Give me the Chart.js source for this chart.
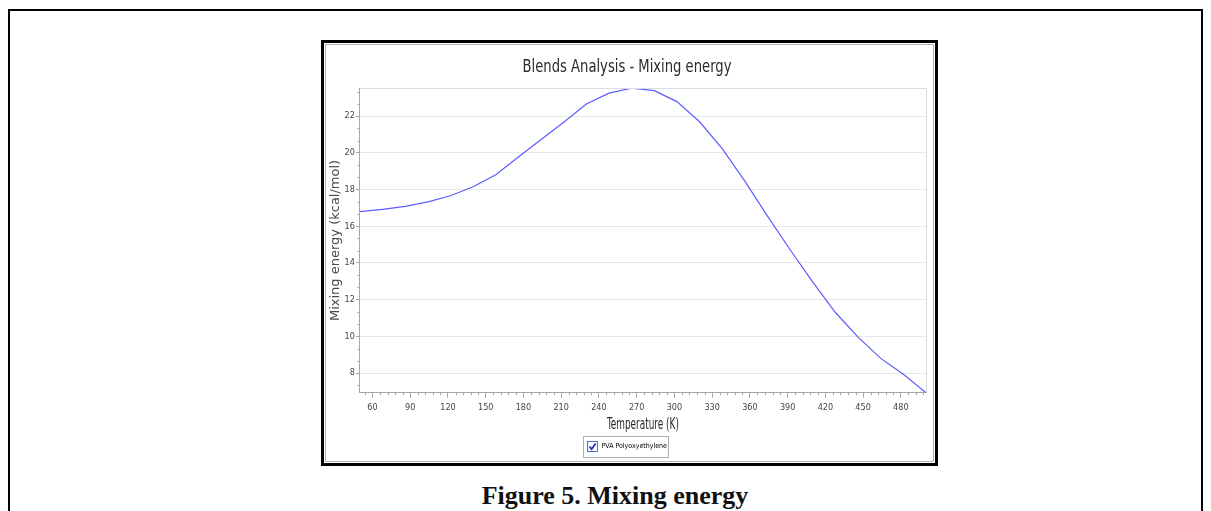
<!DOCTYPE html>
<html>
<head>
<meta charset="utf-8">
<script src="https://cdn.jsdelivr.net/npm/chart.js@4.4.1/dist/chart.umd.min.js"></script>
<style>
  html, body { margin: 0; padding: 0; background: #fff; width: 1211px; height: 511px; overflow: hidden; }
  #page { position: absolute; left: 8px; top: 9px; width: 1195px; height: 600px; border: 2px solid #000; box-sizing: border-box; }
  #frame { position: absolute; left: 321px; top: 40px; width: 617px; height: 426px; border: 3px solid #000; box-sizing: border-box; background: #fff; }
  #inner { position: absolute; left: 1px; top: 1px; right: 1px; bottom: 1px; border: 1px solid #b4b4b4; }
  #wrap { position: absolute; left: 0; top: 0; width: 607px; height: 416px; }
  #caption { position: absolute; left: 415px; width: 400px; top: 481px; text-align: center; font: bold 26px "Liberation Serif", serif; color: #111; white-space: nowrap; }
</style>
</head>
<body>
<div id="page"></div>
<div id="frame"><div id="inner"><div id="wrap"><canvas id="energyChart"></canvas></div></div></div>
<div id="caption">Figure 5. Mixing energy</div>
<script>
// values
const temperature = [50, 68, 86, 104, 122, 140, 158, 176, 194, 212, 230, 248, 266, 284, 302, 320, 338, 356, 374, 392, 410, 428, 446, 464, 482, 500];
const mixingEnergy = [16.80, 16.92, 17.08, 17.33, 17.66, 18.15, 18.80, 19.77, 20.73, 21.66, 22.66, 23.25, 23.52, 23.39, 22.79, 21.69, 20.23, 18.46, 16.55, 14.72, 12.95, 11.30, 9.96, 8.80, 7.94, 6.93];
const xTickLabels = [60, 90, 120, 150, 180, 210, 240, 270, 300, 330, 360, 390, 420, 450, 480];
const yTickLabels = [8, 10, 12, 14, 16, 18, 20, 22];
const seriesName = 'PVA Polyoxyethylene';
const chartTitle = 'Blends Analysis - Mixing energy';
const xTitle = 'Temperature (K)';
const yTitle = 'Mixing energy (kcal/mol)';

const narrow = '"Liberation Sans Narrow", "DejaVu Sans Condensed", "Liberation Sans", sans-serif';
const hidden = 'rgba(0,0,0,0)';

// checkbox used as the legend marker
const checkBox = document.createElement('canvas');
checkBox.width = 11;
checkBox.height = 11;
const cb = checkBox.getContext('2d');
cb.fillStyle = '#fff';
cb.fillRect(0, 0, 11, 11);
cb.strokeStyle = '#4a6fd0';
cb.lineWidth = 1;
cb.strokeRect(0.5, 0.5, 10, 10);
cb.strokeStyle = '#1c2fc4';
cb.lineWidth = 1.8;
cb.beginPath();
cb.moveTo(2.5, 5.5);
cb.lineTo(4.5, 8.2);
cb.lineTo(8.6, 2.4);
cb.stroke();

// the titles in the picture use a very narrow face, so squeeze them sideways
function drawSqueezed(ctx, text, cx, cy, size, squeeze) {
    ctx.save();
    ctx.translate(cx, cy);
    ctx.scale(squeeze, 1);
    ctx.font = size + 'px ' + narrow;
    ctx.fillStyle = '#2a2a2a';
    ctx.textAlign = 'center';
    ctx.textBaseline = 'middle';
    ctx.fillText(text, 0, 0);
    ctx.restore();
}

// minor ticks, plot frame, legend box and the squeezed titles
const extras = {
    id: 'extras',
    afterDraw(chart) {
        const { ctx, chartArea: a, scales: { x, y } } = chart;
        ctx.save();
        ctx.lineWidth = 1;
        ctx.strokeStyle = '#dcdcdc';
        ctx.beginPath();
        ctx.moveTo(a.left, Math.round(a.top) + 0.5);
        ctx.lineTo(Math.round(a.right) + 0.5, Math.round(a.top) + 0.5);
        ctx.lineTo(Math.round(a.right) + 0.5, a.bottom);
        ctx.stroke();

        ctx.strokeStyle = '#a8a8a8';
        ctx.beginPath();
        for (let v = Math.ceil(x.min / 6) * 6; v <= x.max; v += 6) {
            if (v % 30 === 0) continue;
            const px = Math.round(x.getPixelForValue(v)) + 0.5;
            ctx.moveTo(px, a.bottom);
            ctx.lineTo(px, a.bottom + 2.5);
        }
        for (let k = -3; k <= 30; k++) {
            if (k % 3 === 0) continue;
            const v = 8 + k * 2 / 3;
            if (v < y.min || v > y.max) continue;
            const py = Math.round(y.getPixelForValue(v)) + 0.5;
            ctx.moveTo(a.left, py);
            ctx.lineTo(a.left - 2.5, py);
        }
        ctx.stroke();

        const box = chart.legend.legendHitBoxes[0];
        if (box) {
            ctx.strokeStyle = '#b0b0b0';
            ctx.strokeRect(Math.round(box.left) - 3.5, Math.round(box.top) - 6.5, Math.round(box.width) + 5, Math.round(box.height) + 14);
        }
        ctx.restore();

        const t = chart.titleBlock;
        drawSqueezed(ctx, chartTitle, (t.left + t.right) / 2, t.top + 8 + 14, 18.5, 0.79);
        drawSqueezed(ctx, xTitle, (a.left + a.right) / 2, x.bottom - 11, 15, 0.66);
    }
};

new Chart(document.getElementById('energyChart'), {
    type: 'line',
    data: {
        datasets: [{
            label: seriesName,
            data: temperature.map((t, i) => ({ x: t, y: mixingEnergy[i] })),
            borderColor: '#5c5cff',
            borderWidth: 1.2,
            pointRadius: 0,
            tension: 0
        }]
    },
    options: {
        responsive: true,
        maintainAspectRatio: false,
        animation: false,
        layout: { padding: { left: 2, right: 7, top: 0, bottom: 1 } },
        plugins: {
            title: {
                display: true,
                text: chartTitle,
                color: hidden,
                font: { family: narrow, size: 18.5, weight: 'normal' },
                padding: { top: 8, bottom: 13 }
            },
            legend: {
                position: 'bottom',
                onClick: null,
                labels: {
                    usePointStyle: true,
                    pointStyleWidth: 11,
                    boxHeight: 11,
                    padding: 6.5,
                    color: '#222',
                    font: { family: narrow, size: 7 },
                    generateLabels: () => [{ text: seriesName, pointStyle: checkBox, lineWidth: 0, datasetIndex: 0, hidden: false }]
                }
            },
            tooltip: { enabled: false }
        },
        scales: {
            x: {
                type: 'linear',
                min: temperature[0],
                max: temperature[temperature.length - 1],
                afterBuildTicks: axis => { axis.ticks = xTickLabels.map(v => ({ value: v })); },
                ticks: { autoSkip: false, maxRotation: 0, padding: 5, color: '#444', font: { family: narrow, size: 9 } },
                grid: { drawOnChartArea: false, tickLength: 5, tickColor: '#a8a8a8' },
                border: { color: '#a8a8a8' },
                title: { display: true, text: xTitle, color: hidden, font: { family: narrow, size: 15 }, padding: { top: 0, bottom: 0 } }
            },
            y: {
                type: 'linear',
                min: Math.min(...mixingEnergy),
                max: Math.max(...mixingEnergy),
                afterBuildTicks: axis => { axis.ticks = yTickLabels.map(v => ({ value: v })); },
                ticks: { autoSkip: false, padding: 1, color: '#444', font: { family: narrow, size: 9 } },
                grid: { color: '#e8e8e8', tickLength: 4, tickColor: '#a8a8a8' },
                border: { color: '#a8a8a8' },
                title: { display: true, text: yTitle, color: '#4a4a4a', font: { family: '"DejaVu Sans", sans-serif', size: 13 }, padding: { top: 0, bottom: 0 } }
            }
        }
    },
    plugins: [extras]
});
</script>
</body>
</html>
